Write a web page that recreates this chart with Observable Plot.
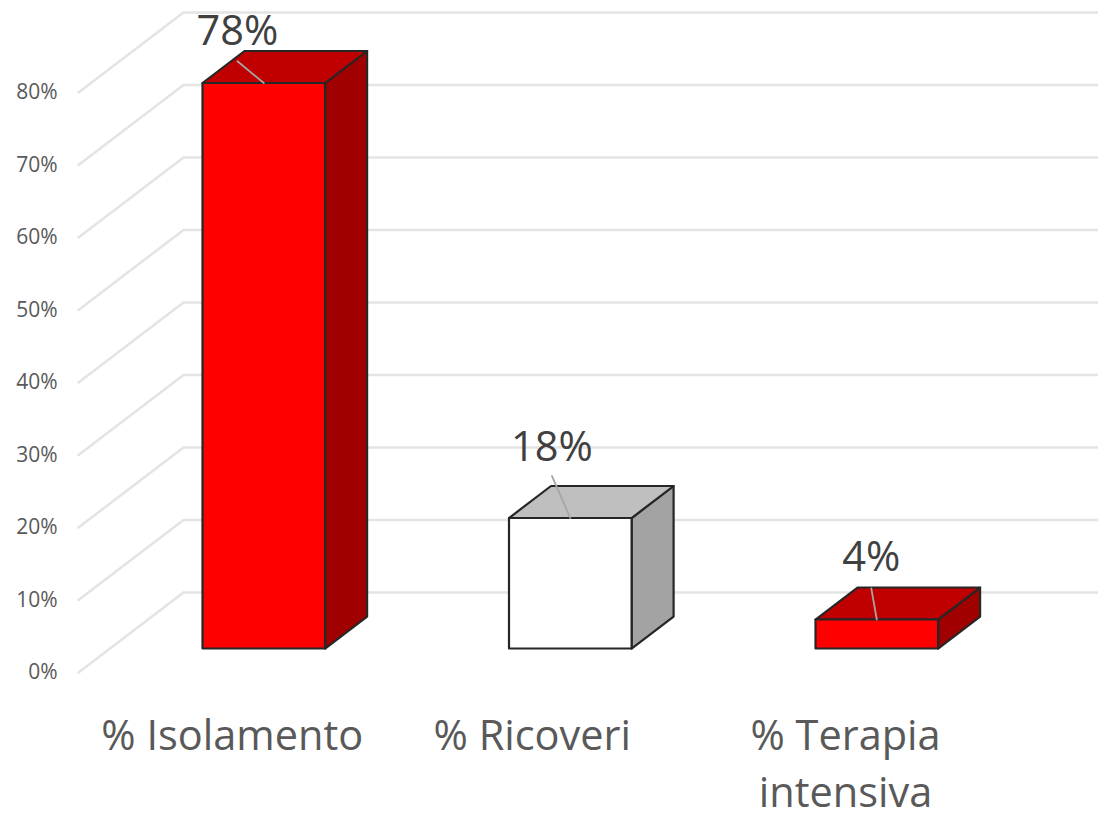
<!DOCTYPE html>
<html>
<head>
<meta charset="utf-8">
<script src="https://cdn.jsdelivr.net/npm/d3@7"></script>
<script src="https://cdn.jsdelivr.net/npm/@observablehq/plot@0.6"></script>
<style>html,body{margin:0;padding:0;background:#fff}svg{display:block}</style>
</head>
<body>
<div id="chart"></div>
<script>
// Data
const categories = ["% Isolamento", "% Ricoveri", "% Terapia\nintensiva"];
const values = [78, 18, 4];
const frontColors = ["#ff0000", "#ffffff", "#ff0000"];
const topColors = ["#c00000", "#bfbfbf", "#c00000"];
const sideColors = ["#a00000", "#a3a3a3", "#a00000"];
const tickValues = [0, 10, 20, 30, 40, 50, 60, 70, 80];
// Category label positions, in category units
const categoryLabelX = [-0.103, 0.876, 1.898];
// Label anchors relative to each bar: x in category units, y in percentage points
const labelDx = [-0.086, -0.06, -0.018];
const labelDy = [5.25, 7.9, 6.7];
const leaderDy = [3.0, 5.8, 4.3];

// Geometry in data units (x: one unit per category, y: percentage points)
const unit = 306.5, pctPx = 7.25;
const halfBar = 61.3 / unit;
const depthX = 42 / unit, depthY = 32 / pctPx;
const wallFrontX = (78 - 263.3) / unit, wallBackX = (183 - 263.3) / unit, wallRightX = (1098 - 263.3) / unit;
const wallFrontY = -24 / pctPx, wallBackY = 56 / pctPx;

const gridRows = tickValues.flatMap((t) => [
  {t, x: wallFrontX, y: t + wallFrontY},
  {t, x: wallBackX, y: t + wallBackY},
  {t, x: wallRightX, y: t + wallBackY}
]);

const faces = values.flatMap((v, i) => {
  const l = i - halfBar, r = i + halfBar;
  const poly = (face, fill, pts) => pts.map(([x, y]) => ({id: `${i}-${face}`, fill, x, y}));
  return [
    ...poly("side", sideColors[i], [[r, 0], [r + depthX, depthY], [r + depthX, v + depthY], [r, v], [r, 0]]),
    ...poly("top", topColors[i], [[l, v], [r, v], [r + depthX, v + depthY], [l + depthX, v + depthY], [l, v]]),
    ...poly("front", frontColors[i], [[l, 0], [r, 0], [r, v], [l, v], [l, 0]])
  ];
});

const leaders = values.flatMap((v, i) => [
  {i, x: i, y: v},
  {i, x: i + labelDx[i], y: v + leaderDy[i]}
]);
const labels = values.map((v, i) => ({x: i + labelDx[i], y: v + labelDy[i], text: v + "%"}));

const plot = Plot.plot({
  width: 1098,
  height: 813,
  marginLeft: 57,
  marginRight: 0,
  marginTop: 0,
  marginBottom: 104,
  style: {fontFamily: "'Open Sans', sans-serif", background: "#fff"},
  x: {type: "linear", domain: [(57 - 263.3) / unit, (1098 - 263.3) / unit], axis: null},
  y: {type: "linear", domain: [(648 - 709) / pctPx, 648 / pctPx], axis: null},
  marks: [
    Plot.line(gridRows, {x: "x", y: "y", z: "t", stroke: "#e4e4e4", strokeWidth: 2.6, curve: "linear"}),
    Plot.axisY(tickValues, {
      anchor: "left", tickSize: 0, tickPadding: 0, dy: 24,
      tickFormat: (d) => d + "%", fontSize: 21, color: "#595959", label: null
    }),
    Plot.axisX(categoryLabelX, {
      anchor: "bottom", tickSize: 0, tickPadding: 0,
      tickFormat: (d, i) => categories[i], fontSize: 41.5, color: "#595959", lineHeight: 1.37, label: null
    }),
    Plot.line(faces, {
      x: "x", y: "y", z: "id", fill: "fill", stroke: "#262626", strokeWidth: 2.2,
      strokeLinejoin: "round", curve: "linear"
    }),
    Plot.line(leaders, {x: "x", y: "y", z: "i", stroke: "#a6a6a6", strokeWidth: 1.8, curve: "linear"}),
    Plot.text(labels, {x: "x", y: "y", text: "text", fontSize: 41.5, fill: "#404040", textAnchor: "middle", lineAnchor: "bottom"})
  ]
});
document.getElementById("chart").append(plot);
</script>
</body>
</html>
